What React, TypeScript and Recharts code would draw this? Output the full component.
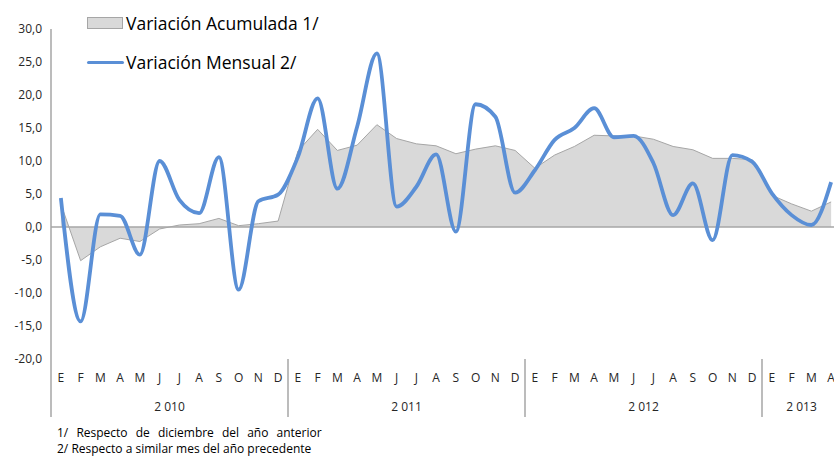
import React from 'react'
import {
  ComposedChart,
  Area,
  Line,
  XAxis,
  YAxis,
  ReferenceLine,
} from 'recharts'

const months = ['E', 'F', 'M', 'A', 'M', 'J', 'J', 'A', 'S', 'O', 'N', 'D']
const years = ['2 010', '2 011', '2 012', '2 013']
const monthsPerYear = [12, 12, 12, 4]

// 1/ Respecto de diciembre del año anterior
const acumulada = [
  3.5, -5.1, -3.0, -1.7, -2.2, -0.3, 0.3, 0.5, 1.3, 0.2, 0.5, 0.9,
  11.5, 14.8, 11.6, 12.4, 15.5, 13.4, 12.6, 12.3, 11.1, 11.8, 12.3, 11.6,
  8.9, 10.9, 12.2, 13.9, 13.8, 13.8, 13.3, 12.2, 11.7, 10.4, 10.4, 10.2,
  4.8, 3.5, 2.4, 3.8,
]

// 2/ Respecto a similar mes del año precedente
const mensual = [
  4.4, -14.3, 1.9, 1.7, -4.2, 10.0, 4.1, 2.1, 10.6, -9.5, 3.9, 4.9,
  10.6, 19.5, 5.8, 15.2, 26.3, 3.1, 6.1, 11.0, -0.7, 18.6, 16.7, 5.2,
  8.6, 13.2, 15.0, 18.0, 13.6, 13.8, 9.7, 1.8, 6.6, -2.0, 10.9, 9.9,
  5.1, 1.8, 0.3, 6.8,
]

const yTicks = [-20, -15, -10, -5, 0, 5, 10, 15, 20, 25, 30]

const yearOf: number[] = []
monthsPerYear.forEach((n, y) => {
  for (let i = 0; i < n; i++) yearOf.push(y)
})

const data = mensual.map((v, i) => ({
  key: i,
  m: months[i % 12],
  year: yearOf[i],
  acumulada: acumulada[i],
  mensual: v,
}))

const W = 850
const H = 420
const Y_W = 43
const MARGIN = { top: 21, right: 17, left: 0, bottom: 0 }
const BW = (W - MARGIN.right - MARGIN.left - Y_W) / data.length
const PAD = { left: BW / 2, right: BW / 2 }
const FONT = '"Open Sans", sans-serif'
const AXIS_GRAY = '#a6a6a6'
const BLUE = '#5a8fd6'

const fmt = (v: number) => v.toFixed(1).replace('.', ',')

function MonthTick(props: any) {
  const { x, y, index } = props
  return (
    <text x={x} y={y + 23} textAnchor="middle" fontSize={12} fill="#262626" fontFamily={FONT}>
      {data[index].m}
    </text>
  )
}

function YearTick(props: any) {
  const { x, y, index } = props
  if (index % 12 !== 0) return <g />
  const yr = data[index].year
  const left = x - BW / 2
  const center = left + (monthsPerYear[yr] * BW) / 2
  return (
    <g>
      <line x1={left} x2={left} y1={y - 30} y2={y + 28} stroke={AXIS_GRAY} strokeWidth={1.5} />
      <text x={center} y={y + 22} textAnchor="middle" fontSize={12} fill="#262626" fontFamily={FONT}>
        {years[yr]}
      </text>
    </g>
  )
}

function LegendBox() {
  return (
    <div
      style={{
        position: 'absolute',
        top: 4,
        left: 79,
        fontFamily: FONT,
        fontSize: 17.5,
        color: '#000',
        whiteSpace: 'nowrap',
      }}
    >
      <div style={{ display: 'flex', alignItems: 'center', height: 22 }}>
        <span
          style={{
            width: 34,
            height: 10,
            background: '#d9d9d9',
            border: '1px solid #a6a6a6',
            display: 'inline-block',
            marginRight: 3,
          }}
        />
        Variación Acumulada 1/
      </div>
      <div style={{ display: 'flex', alignItems: 'center', height: 22, marginTop: 17 }}>
        <span
          style={{
            width: 37,
            height: 3,
            background: BLUE,
            borderRadius: 2,
            display: 'inline-block',
            marginRight: 2,
          }}
        />
        Variación Mensual 2/
      </div>
    </div>
  )
}

export default function App() {
  return (
    <div
      style={{
        position: 'fixed',
        left: 0,
        top: 0,
        width: 834,
        height: 457,
        overflow: 'hidden',
        background: '#fff',
        fontFamily: FONT,
      }}
    >
      <div style={{ position: 'absolute', left: 8, top: 8 }}>
        <ComposedChart width={W} height={H} data={data} margin={MARGIN}>
          <XAxis
            dataKey="key"
            xAxisId={0}
            interval={0}
            height={30}
            padding={PAD}
            axisLine={false}
            tickLine={false}
            tickSize={0}
            tickMargin={0}
            tick={<MonthTick />}
          />
          <XAxis
            dataKey="key"
            xAxisId="yr"
            interval={0}
            height={39}
            padding={PAD}
            axisLine={false}
            tickLine={false}
            tickSize={0}
            tickMargin={0}
            tick={<YearTick />}
          />
          <YAxis
            width={Y_W}
            domain={[-20, 30]}
            ticks={yTicks}
            interval={0}
            tickFormatter={fmt}
            tickSize={0}
            tickMargin={9}
            tickLine={false}
            axisLine={{ stroke: AXIS_GRAY, strokeWidth: 1.5 }}
            tick={{ fontSize: 12, fill: '#262626', fontFamily: FONT }}
          />
          <Area
            type="linear"
            dataKey="acumulada"
            baseValue={0}
            fill="#d9d9d9"
            fillOpacity={1}
            stroke="#a6a6a6"
            strokeWidth={1}
            isAnimationActive={false}
          />
          <ReferenceLine y={0} stroke={AXIS_GRAY} strokeWidth={1.5} />
          <Line
            type="monotone"
            dataKey="mensual"
            stroke={BLUE}
            strokeWidth={3.8}
            dot={false}
            isAnimationActive={false}
          />
        </ComposedChart>
        <LegendBox />
        <div
          style={{
            position: 'absolute',
            top: 417,
            left: 49,
            fontSize: 12,
            lineHeight: '16px',
            color: '#000',
            whiteSpace: 'nowrap',
          }}
        >
          <div style={{ wordSpacing: 5 }}>1/ Respecto de diciembre del año anterior</div>
          <div>2/ Respecto a similar mes del año precedente</div>
        </div>
      </div>
    </div>
  )
}
